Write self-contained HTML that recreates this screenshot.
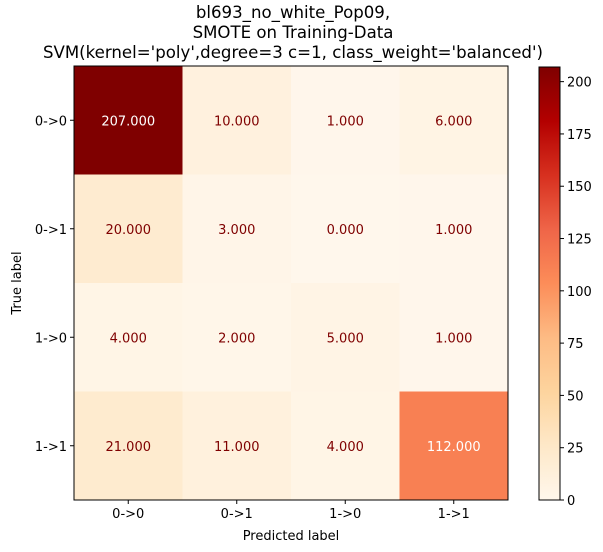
<!DOCTYPE html>
<html><head><meta charset="utf-8"><style>
body{margin:0;background:#fff}
svg{font-family:"DejaVu Sans","Liberation Sans",sans-serif}
</style></head><body>
<svg id="c" width="603" height="547" xmlns="http://www.w3.org/2000/svg">
<defs><linearGradient id="cb" x1="0" y1="1" x2="0" y2="0"></linearGradient></defs>
<g font-size="16.6" text-anchor="middle" fill="#000">
<text x="293" y="18">bl693_no_white_Pop09,</text>
<text x="293" y="38">SMOTE on Training-Data</text>
<text x="293" y="58">SVM(kernel='poly',degree=3 c=1, class_weight='balanced')</text>
</g>
<g id="cells"></g>
<g id="axes"></g>
<text x="291" y="540" font-size="13" text-anchor="middle">Predicted label</text>
<text transform="translate(21,283) rotate(-90)" font-size="13" text-anchor="middle">True label</text>
</svg>
<script>
const labels=["0->0","0->1","1->0","1->1"];
const matrix=[[207,10,1,6],[20,3,0,1],[4,2,5,1],[21,11,4,112]];
const cbTicks=[0,25,50,75,100,125,150,175,200];
const NS="http://www.w3.org/2000/svg";
const L=74,T=66,S=434,n=4,cs=S/n,vmax=207;
const stops=["#fff7ec","#fee8c8","#fdd49e","#fdbb84","#fc8d59","#ef6548","#d7301f","#b30000","#7f0000"];
function hex(h){return [1,3,5].map(i=>parseInt(h.substr(i,2),16));}
function cmap(t){t=Math.max(0,Math.min(1,t))*8;const i=Math.min(7,Math.floor(t)),f=t-i;const a=hex(stops[i]),b=hex(stops[i+1]);return "rgb("+a.map((v,k)=>Math.round(v+(b[k]-v)*f)).join(",")+")";}
function el(tag,at,p){const e=document.createElementNS(NS,tag);for(const k in at)e.setAttribute(k,at[k]);p.appendChild(e);return e;}
const cells=document.getElementById('cells'),axes=document.getElementById('axes');
const x=j=>L+j*cs, y=i=>T+i*cs;
matrix.forEach((row,i)=>row.forEach((v,j)=>{
 const r=el('rect',{x:x(j),y:y(i),width:cs+0.5,height:cs+0.5,fill:cmap(v/vmax)},cells);
 
 
 const t=el('text',{x:x(j)+cs/2,y:y(i)+cs/2+5,'font-size':13,'text-anchor':'middle',fill:v/vmax>0.5?'#fff':'#7f0000'},cells);
 t.textContent=v.toFixed(3);
 
 
}));
const fr=el('rect',{x:L,y:T,width:S,height:S,fill:'none',stroke:'#000','stroke-width':1},axes);


labels.forEach((lb,k)=>{
 const cx=x(k)+cs/2;
 el('line',{x1:cx,x2:cx,y1:T+S,y2:T+S+4,stroke:'#000'},axes);
 const tx=el('text',{x:cx,y:T+S+18,'font-size':13,'text-anchor':'middle'},axes);tx.textContent=lb;
 
 
 const cy=y(k)+cs/2;
 el('line',{x1:L-4,x2:L,y1:cy,y2:cy,stroke:'#000'},axes);
 const ty=el('text',{x:L-7,y:cy+5,'font-size':13,'text-anchor':'end'},axes);ty.textContent=lb;
 
 
});
const g=document.getElementById('cb');
for(let k=0;k<=8;k++){el('stop',{offset:k/8,'stop-color':stops[k]},g);}
const CX=539,CW=21,CT=67,CB=500;
const cb=el('rect',{x:CX,y:CT,width:CW,height:CB-CT,fill:'url(#cb)',stroke:'#000','stroke-width':1},axes);


const cy=v=>CB-(v/vmax)*(CB-CT);
cbTicks.forEach(v=>{
 el('line',{x1:CX+CW,x2:CX+CW+4,y1:cy(v),y2:cy(v),stroke:'#000'},axes);
 const t=el('text',{x:CX+CW+7,y:cy(v)+5,'font-size':13},axes);t.textContent=v;
 
 
});
</script>
</body></html>
